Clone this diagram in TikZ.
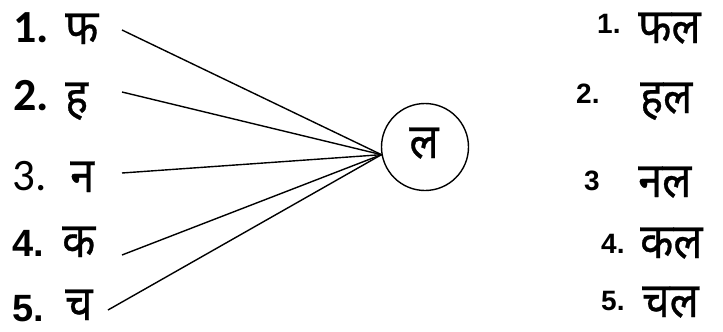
\documentclass[tikz,border=0pt]{standalone}
\usepackage{fontspec}
\setmainfont{Liberation Sans}
\newfontfamily\deva[Script=Devanagari,FakeStretch=0.88,FakeBold=0.6]{Noto Sans}
\newfontfamily\cali{Carlito}
\usetikzlibrary{positioning}

\begin{document}
\begin{tikzpicture}[x=1pt,y=-1pt,
  every node/.style={inner sep=0pt,anchor=base west},
  calnum/.style={font=\cali\bfseries\fontsize{46}{50}\selectfont},
  thinnum/.style={font=\cali\fontsize{45}{48}\selectfont},
  arnum/.style={font=\bfseries\fontsize{38}{42}\selectfont},
  smallnum/.style={font=\bfseries\fontsize{28}{30}\selectfont},
  letter/.style={font=\deva\fontsize{49}{52}\selectfont,text depth=0pt},
  link/.style={line width=1.4pt}]
  \useasboundingbox (0,0) rectangle (723,332);

  % left column
  \node[calnum] (n1) at (13,42) {1.};
  \node[letter] (a1) at (65,44) {फ};
  \node[calnum] (n2) at (13,110) {2.};
  \node[letter] (a2) at (65,113) {ह};
  \node[thinnum] (n3) at (12,190) {3.};
  \node[letter] (a3) at (70,192) {न};
  \node[arnum] (n4) at (12,256) {4.};
  \node[letter] (a4) at (62,257) {क};
  \node[arnum] (n5) at (12,321) {5.};
  \node[letter] (a5) at (65,320) {च};

  % middle letter
  \node[draw,circle,line width=1.4pt,minimum size=87pt,anchor=center] (lal) at (425,147) {};
  \node[letter,anchor=base] (lalt) at (424,158) {ल};

  % right column
  \node[smallnum] (m1) at (597,33) {1.};
  \node[letter] (w1) at (638,43) {फल};
  \node[smallnum] (m2) at (576,103) {2.};
  \node[letter] (w2) at (640,113) {हल};
  \node[smallnum] (m3) at (584,190) {3};
  \node[letter] (w3) at (638,197) {नल};
  \node[smallnum] (m4) at (601,253) {4.};
  \node[letter] (w4) at (640,258) {कल};
  \node[smallnum] (m5) at (601,310) {5.};
  \node[letter] (w5) at (642,317) {चल};

  % lines to the circle
  \coordinate (s1) at (122,30);
  \coordinate (s2) at (122,92);
  \coordinate (s3) at (122,173);
  \coordinate (s4) at (122,255);
  \coordinate (s5) at (108,310);
  \foreach \i in {1,...,5}
    \draw[link] (s\i) -- (lal.190);
\end{tikzpicture}
\end{document}
